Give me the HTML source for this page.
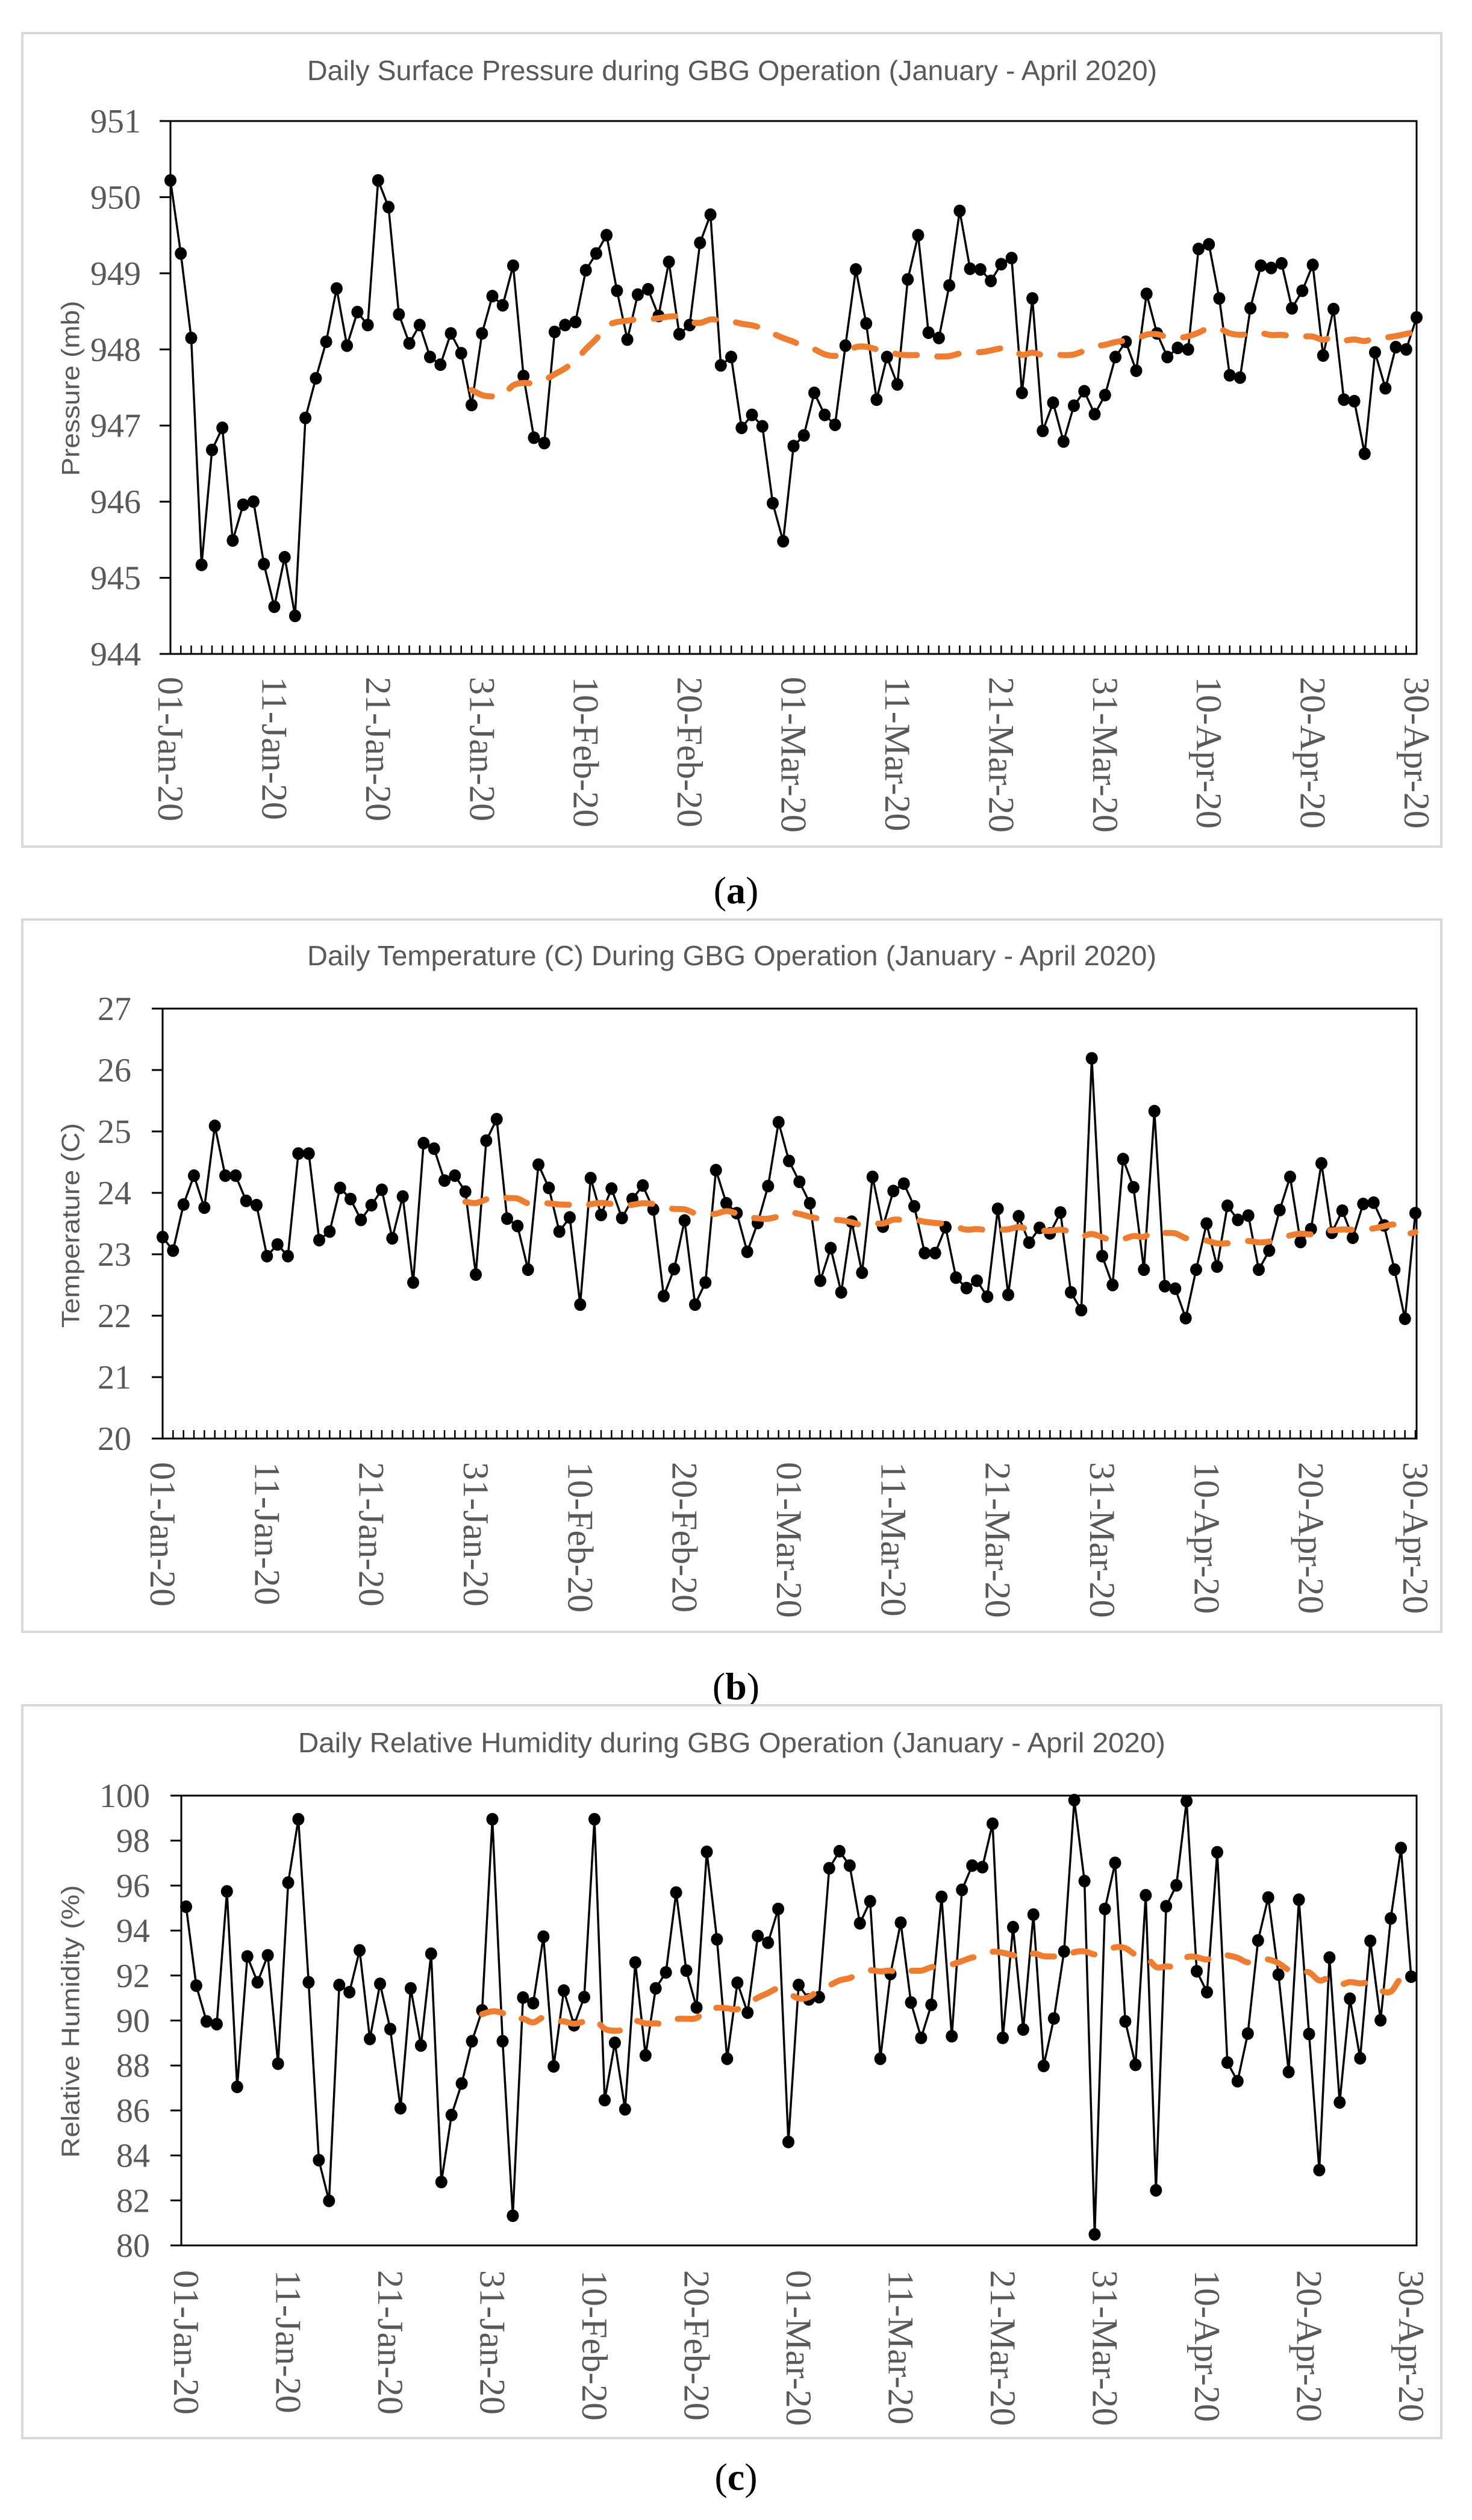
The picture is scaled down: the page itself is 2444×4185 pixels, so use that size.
<!DOCTYPE html>
<html><head><meta charset="utf-8"><title>GBG Operation Daily Weather</title>
<style>
html,body{margin:0;padding:0;background:#fff;}
svg{display:block;}
</style></head>
<body>
<svg id="fig" xmlns="http://www.w3.org/2000/svg" width="2444" height="4185" viewBox="0 0 2444 4185">
<rect x="0" y="0" width="2444" height="4185" fill="#fff"/>
<text x="1222" y="1500" text-anchor="middle" font-family="Liberation Serif, serif" font-size="64" fill="#000">(<tspan font-weight="bold">a</tspan>)</text>
<text x="1222" y="2822" text-anchor="middle" font-family="Liberation Serif, serif" font-size="64" fill="#000">(<tspan font-weight="bold">b</tspan>)</text>
<text x="1222" y="4135" text-anchor="middle" font-family="Liberation Serif, serif" font-size="64" fill="#000">(<tspan font-weight="bold">c</tspan>)</text>
</svg>
<script>
const dateLabels = ["01-Jan-20","11-Jan-20","21-Jan-20","31-Jan-20","10-Feb-20","20-Feb-20","01-Mar-20","11-Mar-20","21-Mar-20","31-Mar-20","10-Apr-20","20-Apr-20","30-Apr-20"];
const pressureTicks = ["944","945","946","947","948","949","950","951"];
const temperatureTicks = ["20","21","22","23","24","25","26","27"];
const humidityTicks = ["80","82","84","86","88","90","92","94","96","98","100"];
const pressure = [950.22,949.26,948.15,945.17,946.68,946.97,945.49,945.96,946.0,945.18,944.62,945.27,944.5,947.1,947.62,948.1,948.8,948.05,948.49,948.32,950.22,949.87,948.46,948.08,948.32,947.9,947.8,948.21,947.95,947.27,948.21,948.7,948.58,949.1,947.65,946.84,946.77,948.23,948.32,948.36,949.04,949.26,949.5,948.77,948.13,948.72,948.79,948.44,949.15,948.2,948.32,949.4,949.77,947.79,947.9,946.97,947.14,946.99,945.98,945.48,946.73,946.87,947.43,947.14,947.01,948.05,949.05,948.34,947.34,947.9,947.54,948.92,949.5,948.22,948.15,948.84,949.82,949.06,949.05,948.9,949.12,949.2,947.43,948.67,946.93,947.3,946.79,947.26,947.45,947.15,947.4,947.9,948.1,947.72,948.73,948.21,947.9,948.02,948.0,949.32,949.38,948.67,947.66,947.63,948.54,949.1,949.07,949.13,948.54,948.77,949.11,947.92,948.53,947.34,947.32,946.63,947.96,947.49,948.03,948.0,948.42];
const temperature = [23.28,23.06,23.81,24.28,23.76,25.09,24.28,24.28,23.87,23.8,22.97,23.16,22.97,24.64,24.64,23.23,23.37,24.08,23.9,23.56,23.8,24.05,23.26,23.94,22.54,24.81,24.72,24.2,24.28,24.02,22.67,24.85,25.2,23.58,23.46,22.75,24.46,24.08,23.37,23.6,22.18,24.24,23.64,24.07,23.59,23.9,24.12,23.73,22.32,22.76,23.55,22.18,22.54,24.37,23.83,23.67,23.04,23.51,24.11,25.15,24.52,24.18,23.83,22.57,23.1,22.38,23.53,22.7,24.26,23.45,24.03,24.15,23.78,23.02,23.02,23.44,22.62,22.45,22.57,22.31,23.74,22.34,23.62,23.19,23.43,23.34,23.68,22.38,22.09,26.19,22.97,22.5,24.55,24.09,22.75,25.33,22.48,22.44,21.96,22.75,23.5,22.8,23.79,23.56,23.63,22.75,23.06,23.72,24.26,23.2,23.41,24.48,23.35,23.71,23.27,23.82,23.84,23.47,22.75,21.95,23.67];
const humidity = [95.06,91.55,89.96,89.84,95.74,87.05,92.85,91.7,92.9,88.08,96.13,98.95,91.7,83.79,81.98,91.58,91.26,93.12,89.18,91.63,89.62,86.1,91.43,88.89,92.97,82.82,85.8,87.2,89.08,90.45,98.95,89.08,81.32,91.02,90.77,93.73,87.96,91.33,89.79,91.04,98.95,86.46,89.01,86.05,92.58,88.45,91.43,92.14,95.69,92.22,90.58,97.5,93.61,88.3,91.68,90.35,93.76,93.46,94.96,84.6,91.58,90.94,91.04,96.77,97.53,96.89,94.32,95.3,88.3,92.07,94.35,90.8,89.23,90.7,95.5,89.3,95.81,96.89,96.82,98.75,89.23,94.15,89.6,94.71,87.98,90.09,93.07,99.8,96.2,80.49,94.96,97.01,89.96,88.03,95.57,82.45,95.08,96.01,99.76,92.19,91.26,97.48,88.13,87.3,89.42,93.56,95.47,92.04,87.71,95.37,89.4,83.35,92.8,86.36,90.97,88.32,93.54,90.01,94.54,97.67,91.95];

const NS = "http://www.w3.org/2000/svg";
const svg = document.getElementById("fig");
function mk(tag, attrs, parent){ const e=document.createElementNS(NS,tag); for(const k in attrs) e.setAttribute(k,attrs[k]); (parent||svg).appendChild(e); return e; }

function movingAverage(vals, n){ const out=[]; for(let i=n-1;i<vals.length;i++){ let s=0; for(let j=i-n+1;j<=i;j++) s+=vals[j]; out.push([i, s/n]); } return out; }
function smoothPath(pts){
  let d="M"+pts[0][0].toFixed(1)+","+pts[0][1].toFixed(1);
  for(let i=0;i<pts.length-1;i++){
    const p0=pts[Math.max(0,i-1)], p1=pts[i], p2=pts[i+1], p3=pts[Math.min(pts.length-1,i+2)];
    const c1x=p1[0]+(p2[0]-p0[0])/6, c1y=p1[1]+(p2[1]-p0[1])/6;
    const c2x=p2[0]-(p3[0]-p1[0])/6, c2y=p2[1]-(p3[1]-p1[1])/6;
    d+=" C"+c1x.toFixed(1)+","+c1y.toFixed(1)+" "+c2x.toFixed(1)+","+c2y.toFixed(1)+" "+p2[0].toFixed(1)+","+p2[1].toFixed(1);
  }
  return d;
}

function drawChart(cfg, values, ticks){
  const g = mk("g",{});
  
  
  const frame = mk("rect",{x:37,y:cfg.fTop,width:2356,height:cfg.fBot-cfg.fTop,fill:"#fff",stroke:"#d9d9d9","stroke-width":4},g);
  
  
  const title = mk("text",{x:cfg.tX,y:cfg.tY,"font-family":"Liberation Sans, sans-serif","font-size":46,fill:"#595959",textLength:cfg.tLen,lengthAdjust:"spacingAndGlyphs"},g);
  title.textContent = cfg.title;
  
  
  const xs = i => cfg.x0 + (cfg.x1-cfg.x0)*i/(values.length-1);
  const ys = v => cfg.yBot - (v-cfg.min)/(cfg.max-cfg.min)*(cfg.yBot-cfg.yTop);
  const box = mk("path",{d:`M${cfg.aL},${cfg.yTop} H${cfg.aR} V${cfg.yBot} H${cfg.aL} Z`,fill:"none",stroke:"#000","stroke-width":3},g);
  
  
  ticks.forEach((t,k)=>{
    const v = cfg.min + k*(cfg.max-cfg.min)/(ticks.length-1);
    const y = ys(v);
    const tk = mk("line",{x1:cfg.aL-18,x2:cfg.aL,y1:y,y2:y,stroke:"#000","stroke-width":3},g);
    
    
    const lb = mk("text",{x:cfg.tickR,y:y+19,"text-anchor":"end","font-family":"Liberation Serif, serif","font-size":56,fill:"#595959"},g);
    lb.textContent = t;
    
    
  });
  if(cfg.minor){
    for(let i=0;i<values.length;i++){
      const x=xs(i);
      const m = mk("line",{x1:x,x2:x,y1:cfg.yBot,y2:cfg.yBot-14,stroke:"#000","stroke-width":2.5},g);
      
      
    }
  }
  dateLabels.forEach((lab,k)=>{
    const x = xs(k*10);
    const t = mk("text",{transform:`translate(${x.toFixed(1)},${cfg.lblTop}) rotate(90)`,"dominant-baseline":"central","font-family":"Liberation Serif, serif","font-size":60,fill:"#595959"},g);
    t.textContent = lab;
    
    
  });
  const yt = mk("text",{transform:`translate(117,${cfg.ytY}) rotate(-90)`,"text-anchor":"middle","dominant-baseline":"central","font-family":"Liberation Sans, sans-serif","font-size":42,fill:"#595959",textLength:cfg.ytLen,lengthAdjust:"spacingAndGlyphs"},g);
  yt.textContent = cfg.yTitle;
  
  
  let d="";
  values.forEach((v,i)=>{ d += (i?"L":"M")+xs(i).toFixed(1)+","+ys(v).toFixed(1)+" "; });
  const line = mk("path",{d:d,fill:"none",stroke:"#000","stroke-width":3.5,"stroke-linejoin":"round"},g);
  
  
  values.forEach((v,i)=>{
    const c = mk("ellipse",{cx:xs(i).toFixed(1),cy:ys(v).toFixed(1),rx:10,ry:10.5,fill:"#000"},g);
    
    
  });
  const ma = movingAverage(values,30).map(p=>[xs(p[0]), ys(p[1])]);
  const mp = mk("path",{d:smoothPath(ma),fill:"none",stroke:"#ED7D31","stroke-width":10,"stroke-dasharray":"36 34","stroke-linecap":"round"},g);
  
  
}

drawChart({name:"pressure-chart",title:"Daily Surface Pressure during GBG Operation (January - April 2020)",tX:510,tY:133,tLen:1411,
  fTop:55,fBot:1406,aL:283,aR:2352,x0:283,x1:2352,yTop:201,yBot:1086,min:944,max:951,tickR:234,minor:true,lblTop:1124,
  yTitle:"Pressure (mb)",ytY:645,ytLen:291}, pressure, pressureTicks);
drawChart({name:"temperature-chart",title:"Daily Temperature (C) During GBG Operation (January - April 2020)",tX:510,tY:1603,tLen:1410,
  fTop:1527,fBot:2710,aL:270,aR:2352,x0:270,x1:2350,yTop:1675,yBot:2389,min:20,max:27,tickR:218,minor:true,lblTop:2428,
  yTitle:"Temperature (C)",ytY:2035,ytLen:340}, temperature, temperatureTicks);
drawChart({name:"humidity-chart",title:"Daily Relative Humidity during GBG Operation (January - April 2020)",tX:495,tY:2910,tLen:1440,
  fTop:2832,fBot:4049,aL:301,aR:2352,x0:309,x1:2343,yTop:2982,yBot:3729,min:80,max:100,tickR:249,minor:false,lblTop:3770,
  yTitle:"Relative Humidity (%)",ytY:3357,ytLen:453}, humidity, humidityTicks);
</script>
</body></html>
